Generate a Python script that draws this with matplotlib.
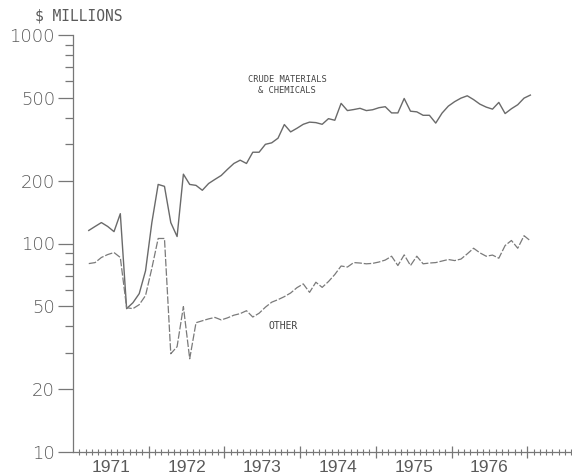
import matplotlib
matplotlib.use('Agg')
import matplotlib.pyplot as plt
import numpy as np
from matplotlib.ticker import NullFormatter

# ---- data (monthly, $ millions), starting March 1971 ----
start_year = 1971
start_month = 2  # 0 = January -> March 1971
crude = [115.5, 120.7, 126, 120.7, 114, 139, 48.7, 52, 57.5, 74, 126, 192, 188,
         126, 108, 215, 192, 190, 180, 194, 203, 212, 227, 242, 251, 242, 274,
         274, 299, 304, 320, 372, 343, 357, 373, 382, 380, 373, 397, 390, 470,
         434, 439, 445, 434, 438, 448, 453, 423, 423, 496, 431, 428, 412, 412,
         378, 422, 456, 479, 498, 511, 490, 466, 451, 441, 475, 420, 443, 463,
         498, 515]
other = [80.1, 81, 85.7, 88.5, 90.5, 85.7, 49.2, 48.7, 50.9, 56.3, 76.1, 105.7,
         105.7, 29.6, 32, 49.8, 28, 41.7, 42.6, 43.5, 44.2, 43, 44, 45.3, 46.1,
         47.6, 44.4, 46.3, 49.5, 52.3, 53.8, 55.6, 57.9, 61.4, 64.0, 58.3, 65.2,
         61.6, 65.7, 71, 78, 77.1, 81, 80.6, 79.9, 80.3, 81.5, 83.3, 86.9, 78.4,
         88.2, 78.4, 86.9, 79.9, 80.6, 81, 82.4, 83.8, 82.8, 84.2, 89.2, 94.9,
         90.2, 86.9, 88.0, 85, 97.8, 103.4, 94.9, 109, 103]
year_labels = ['1971', '1972', '1973', '1974', '1975', '1976']
y_major = [10, 20, 50, 100, 200, 500, 1000]
y_minor = [v * d for d in (10, 100) for v in range(2, 10)]
y_minor = [v for v in y_minor if v not in y_major]

months = np.arange(len(crude)) + start_month
x_crude = start_year + (months + 0.5) / 12
x_other = start_year + (np.arange(len(other)) + start_month + 0.5) / 12

line_col = '#6a6a6a'
other_col = '#7a7a7a'
text_col = '#5a5a5a'

fig = plt.figure(figsize=(5.72, 4.75), dpi=100)
ax = fig.add_axes([73 / 572, 23 / 475, 499 / 572, 417 / 475])
ax.set_yscale('log')
ax.plot(x_crude, crude, color=line_col, lw=1.0)
ax.plot(x_other, other, color=other_col, lw=0.9, dashes=(6, 1.5))

for s in ('top', 'right'):
    ax.spines[s].set_visible(False)
for s in ('left', 'bottom'):
    ax.spines[s].set_color('#777777')
    ax.spines[s].set_linewidth(0.9)

# y axis
ax.set_yticks(y_major, labels=[str(v) for v in y_major])
ax.set_yticks(y_minor, minor=True)
ax.yaxis.set_minor_formatter(NullFormatter())
ax.tick_params(axis='y', which='major', length=11, width=0.9, color='#777777',
               labelsize=13, labelcolor=text_col, pad=2)
ax.tick_params(axis='y', which='minor', length=6, width=0.9, color='#777777')
for lab in ax.get_yticklabels():
    lab.set_fontfamily('DejaVu Sans')
    lab.set_fontweight('light')

# x axis
n_years = len(year_labels)
x_end = 1971 + 499 / 75.7
boundaries = [start_year + k for k in range(1, n_years + 1)]
month_ticks = [start_year + k / 12 for k in range(1, 12 * (n_years + 1) + 8)
               if k % 12 != 0 and start_year + k / 12 <= x_end]
ax.set_xticks(boundaries, labels=[''] * len(boundaries))
ax.set_xticks(month_ticks, minor=True)
ax.xaxis.set_minor_formatter(NullFormatter())
ax.tick_params(axis='x', which='major', length=9, width=0.9, color='#777777',
               direction='inout')
ax.tick_params(axis='x', which='minor', length=5, width=0.8, color='#777777',
               direction='inout')

sec = ax.secondary_xaxis('bottom')
sec.set_xticks([start_year + k + 0.5 for k in range(n_years)], labels=year_labels)
sec.tick_params(length=0, pad=6, labelsize=12.5, labelcolor=text_col)
sec.spines['bottom'].set_visible(False)
for lab in sec.get_xticklabels():
    lab.set_fontfamily('Liberation Sans')

ax.set_ylim(10, 1000)
ax.set_xlim(1971, x_end)

# texts
fig.text(35 / 572, 1 - 16 / 475, '$ MILLIONS', fontsize=10.5,
         family='DejaVu Sans Mono', color=text_col, va='center', ha='left')
ax.text(1973.83, 575, 'CRUDE MATERIALS\n& CHEMICALS', fontsize=6.3,
        family='DejaVu Sans Mono', color='#444444', ha='center', va='center',
        linespacing=1.2)
ax.text(1973.77, 40.4, 'OTHER', fontsize=7, family='DejaVu Sans Mono',
        color='#444444', ha='center', va='center')

fig.savefig('out.png', dpi=100)
